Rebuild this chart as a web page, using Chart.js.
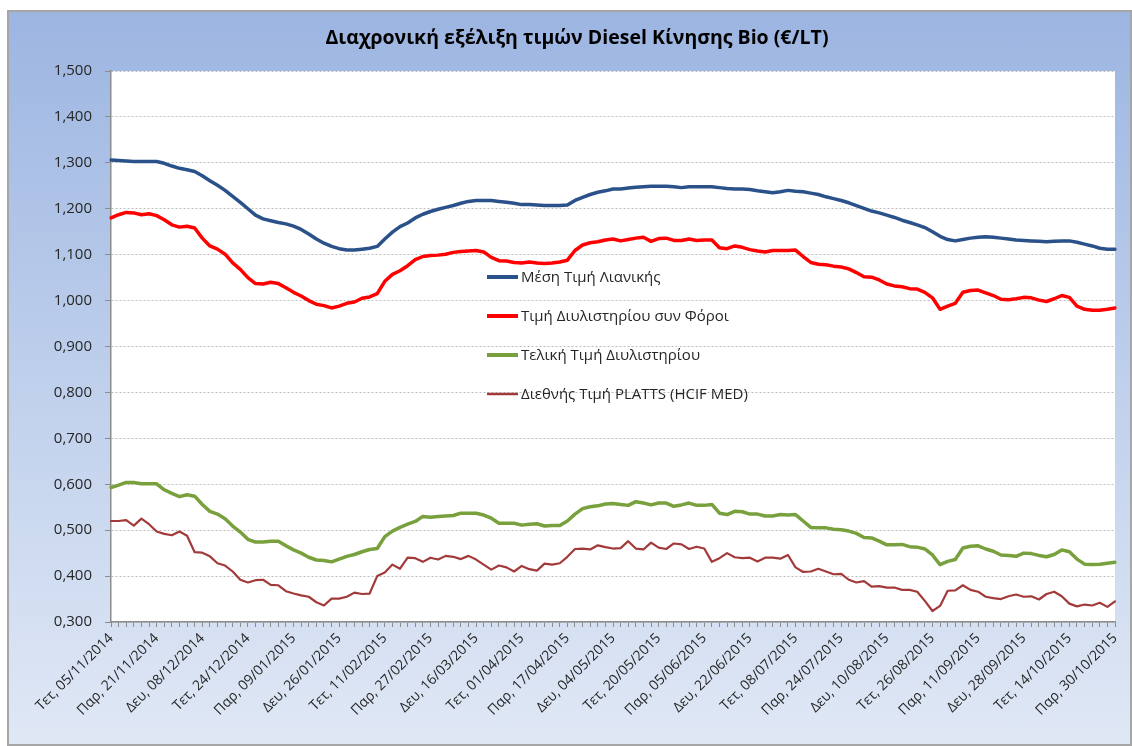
<!DOCTYPE html>
<html>
<head>
<meta charset="utf-8">
<title>Diesel Κίνησης Bio</title>
<script src="https://cdn.jsdelivr.net/npm/chart.js@4.4.1/dist/chart.umd.min.js"></script>
<style>
  html, body { margin: 0; padding: 0; background: #fff; }
  #frame {
    position: absolute; left: 7px; top: 10px; width: 1125px; height: 736px;
    background: linear-gradient(to bottom, #9cb5e1 0%, #c2d2ed 55%, #e0e8f5 100%);
    box-shadow: inset 0 0 0 2px #a6a6a6;
  }
  #chart { position: absolute; left: 0; top: 0; }
</style>
</head>
<body>
<div id="frame"><canvas id="chart" width="1125" height="736"></canvas></div>
<script>
const chartTitle = 'Διαχρονική εξέλιξη τιμών Diesel Κίνησης Bio (€/LT)';

// tick labels: one every 6 points
const tickLabels = [
  'Τετ, 05/11/2014', 'Παρ, 21/11/2014', 'Δευ, 08/12/2014', 'Τετ, 24/12/2014',
  'Παρ, 09/01/2015', 'Δευ, 26/01/2015', 'Τετ, 11/02/2015', 'Παρ, 27/02/2015',
  'Δευ, 16/03/2015', 'Τετ, 01/04/2015', 'Παρ, 17/04/2015', 'Δευ, 04/05/2015',
  'Τετ, 20/05/2015', 'Παρ, 05/06/2015', 'Δευ, 22/06/2015', 'Τετ, 08/07/2015',
  'Παρ, 24/07/2015', 'Δευ, 10/08/2015', 'Τετ, 26/08/2015', 'Παρ, 11/09/2015',
  'Δευ, 28/09/2015', 'Τετ, 14/10/2015', 'Παρ, 30/10/2015'
];
const pointsPerLabel = 6;

// Μέση Τιμή Λιανικής
const retail = [
  1.306,1.305,1.304,1.303,1.303,1.303,1.303,1.299,1.293,1.288,1.285,1.281,1.272,1.261,1.251,1.240,1.227,1.214,1.200,1.186,1.178,1.174,1.170,1.167,1.162,1.155,1.145,1.134,1.125,1.118,1.113,1.110,1.110,
  1.112,1.114,1.118,1.134,1.149,1.161,1.169,1.180,1.188,1.194,1.199,1.203,1.207,1.212,1.216,1.218,1.218,1.218,1.216,1.214,1.212,1.209,1.209,1.208,1.207,1.207,1.207,1.208,1.218,1.225,1.231,1.236,1.239,1.243,
  1.243,1.245,1.247,1.248,1.249,1.249,1.249,1.248,1.246,1.248,1.248,1.248,1.248,1.246,1.244,1.243,1.243,1.242,1.239,1.237,1.235,1.237,1.240,1.238,1.237,1.234,1.231,1.226,1.222,1.218,1.213,1.207,1.201,1.195,
  1.191,1.186,1.181,1.175,1.170,1.165,1.159,1.150,1.140,1.133,1.130,1.133,1.136,1.138,1.139,1.138,1.136,1.134,1.132,1.131,1.130,1.129,1.128,1.129,1.130,1.130,1.127,1.123,1.119,1.114,1.112,1.112
];

// Τιμή Διυλιστηρίου συν Φόροι
const refineryTax = [
  1.180,1.187,1.192,1.191,1.187,1.189,1.185,1.176,1.165,1.160,1.162,1.158,1.136,1.119,1.112,1.101,1.082,1.068,1.050,1.037,1.036,1.040,1.037,1.028,1.018,1.010,1.000,0.992,0.989,0.984,0.988,0.994,0.997,
  1.005,1.008,1.015,1.042,1.057,1.065,1.076,1.089,1.096,1.098,1.099,1.101,1.105,1.107,1.108,1.109,1.106,1.094,1.087,1.086,1.083,1.082,1.084,1.082,1.081,1.082,1.084,1.088,1.109,1.121,1.126,1.128,1.132,1.134,
  1.130,1.133,1.136,1.138,1.129,1.135,1.136,1.131,1.131,1.134,1.131,1.132,1.132,1.115,1.113,1.119,1.116,1.111,1.108,1.106,1.109,1.109,1.109,1.110,1.096,1.083,1.079,1.078,1.075,1.073,1.069,1.061,1.052,1.051,
  1.045,1.036,1.032,1.030,1.026,1.025,1.018,1.006,0.981,0.988,0.994,1.018,1.022,1.023,1.017,1.011,1.003,1.002,1.004,1.007,1.006,1.001,0.998,1.004,1.011,1.007,0.988,0.981,0.979,0.979,0.981,0.984
];

// Τελική Τιμή Διυλιστηρίου
const refineryFinal = [
  0.593,0.598,0.604,0.604,0.601,0.601,0.601,0.588,0.580,0.573,0.577,0.574,0.556,0.541,0.535,0.525,0.509,0.496,0.480,0.474,0.474,0.476,0.476,0.466,0.457,0.450,0.441,0.435,0.434,0.431,0.437,0.443,0.447,
  0.453,0.458,0.460,0.486,0.498,0.506,0.513,0.519,0.530,0.528,0.530,0.531,0.532,0.537,0.537,0.537,0.533,0.526,0.515,0.515,0.515,0.511,0.513,0.514,0.509,0.510,0.510,0.520,0.535,0.547,0.551,0.553,0.557,0.558,
  0.556,0.554,0.562,0.559,0.555,0.559,0.559,0.552,0.555,0.559,0.554,0.554,0.556,0.537,0.534,0.541,0.540,0.535,0.535,0.531,0.531,0.534,0.533,0.534,0.520,0.506,0.505,0.505,0.502,0.501,0.498,0.493,0.484,0.483,
  0.476,0.468,0.468,0.469,0.464,0.463,0.459,0.446,0.425,0.432,0.436,0.461,0.465,0.466,0.459,0.454,0.446,0.445,0.443,0.450,0.449,0.445,0.442,0.447,0.457,0.453,0.437,0.426,0.425,0.426,0.428,0.430
];

// Διεθνής Τιμή PLATTS (HCIF MED)
const platts = [
  0.520,0.520,0.522,0.510,0.525,0.513,0.497,0.492,0.489,0.497,0.488,0.452,0.451,0.443,0.428,0.423,0.410,0.392,0.386,0.391,0.392,0.381,0.380,0.367,0.362,0.358,0.355,0.343,0.336,0.351,0.351,0.355,0.364,
  0.361,0.362,0.400,0.408,0.425,0.416,0.440,0.439,0.431,0.440,0.436,0.444,0.442,0.437,0.444,0.436,0.425,0.414,0.423,0.419,0.410,0.422,0.415,0.412,0.427,0.425,0.428,0.442,0.459,0.460,0.458,0.467,0.463,0.460,
  0.461,0.476,0.460,0.458,0.473,0.462,0.459,0.471,0.469,0.459,0.464,0.460,0.431,0.439,0.450,0.441,0.439,0.440,0.432,0.440,0.440,0.438,0.446,0.419,0.409,0.410,0.416,0.410,0.404,0.405,0.392,0.386,0.389,0.377,
  0.378,0.375,0.375,0.370,0.370,0.366,0.346,0.324,0.335,0.368,0.369,0.380,0.370,0.366,0.355,0.352,0.350,0.356,0.360,0.355,0.356,0.349,0.361,0.366,0.356,0.340,0.334,0.338,0.336,0.342,0.333,0.345
];

const categories = retail.map((v, i) => i % pointsPerLabel === 0 ? tickLabels[i / pointsPerLabel] : '');

const FONT = "'Open Sans', 'DejaVu Sans', sans-serif";

// white plot area on top of the blue gradient, title above it
const plotBg = {
  id: 'plotBg',
  beforeDraw(chart) {
    const a = chart.chartArea, ctx = chart.ctx;
    ctx.save();
    ctx.fillStyle = '#ffffff';
    ctx.fillRect(a.left, a.top, a.right - a.left, a.bottom - a.top);
    ctx.fillStyle = '#000';
    ctx.font = 'bold 19.5px ' + FONT;
    ctx.textAlign = 'center';
    ctx.textBaseline = 'middle';
    ctx.fillText(chartTitle, 570, 28);
    ctx.restore();
  }
};

// legend sits inside the plot, stacked in the middle
const innerLegend = {
  id: 'innerLegend',
  afterDatasetsDraw(chart) {
    const ctx = chart.ctx;
    ctx.save();
    ctx.font = '15px ' + FONT;
    ctx.textBaseline = 'middle';
    chart.data.datasets.forEach((ds, i) => {
      const y = 267 + i * 39;
      ctx.strokeStyle = ds.borderColor;
      ctx.lineWidth = i === 3 ? 2.5 : 4;
      ctx.beginPath();
      ctx.moveTo(480, y);
      ctx.lineTo(511, y);
      ctx.stroke();
      ctx.fillStyle = '#262626';
      ctx.fillText(ds.label, 514, y + 1);
    });
    ctx.restore();
  }
};

new Chart(document.getElementById('chart'), {
  type: 'line',
  data: {
    labels: categories,
    datasets: [
      { label: 'Μέση Τιμή Λιανικής', data: retail, borderColor: '#2a5189', borderWidth: 3.5 },
      { label: 'Τιμή Διυλιστηρίου συν Φόροι', data: refineryTax, borderColor: '#ff0000', borderWidth: 3.5 },
      { label: 'Τελική Τιμή Διυλιστηρίου', data: refineryFinal, borderColor: '#78a03c', borderWidth: 3.5 },
      { label: 'Διεθνής Τιμή PLATTS (HCIF MED)', data: platts, borderColor: '#a33a3a', borderWidth: 2.2 }
    ]
  },
  options: {
    responsive: false,
    devicePixelRatio: 1,
    animation: false,
    layout: { padding: { left: 0, right: 17, top: 61, bottom: 0 } },
    elements: {
      point: { radius: 0 },
      line: { tension: 0, borderJoinStyle: 'round', borderCapStyle: 'round' }
    },
    plugins: {
      legend: { display: false },
      tooltip: { enabled: false },
      title: { display: false }
    },
    scales: {
      x: {
        offset: false,
        afterFit(scale) { scale.height = 124; },
        grid: { drawOnChartArea: false, drawTicks: true, tickLength: 5, tickColor: '#8c8c8c', tickBorderDash: [] },
        border: { color: '#8c8c8c', width: 1.5 },
        ticks: {
          autoSkip: false, maxRotation: 45, minRotation: 45, padding: 3,
          color: '#262626', font: { family: FONT, size: 14 },
          callback(value, index) { return categories[index]; }
        }
      },
      y: {
        min: 0.3, max: 1.5,
        afterFit(scale) { scale.width = 104; },
        grid: { color: '#bdbdbd', lineWidth: 1, tickLength: 6, tickColor: '#8c8c8c', tickBorderDash: [] },
        border: { color: '#8c8c8c', width: 1.5, dash: [2, 2] },
        ticks: {
          stepSize: 0.1, padding: 13,
          color: '#262626', font: { family: FONT, size: 15 },
          callback(v) { return v.toFixed(3).replace('.', ','); }
        }
      }
    }
  },
  plugins: [plotBg, innerLegend]
});
</script>
</body>
</html>
